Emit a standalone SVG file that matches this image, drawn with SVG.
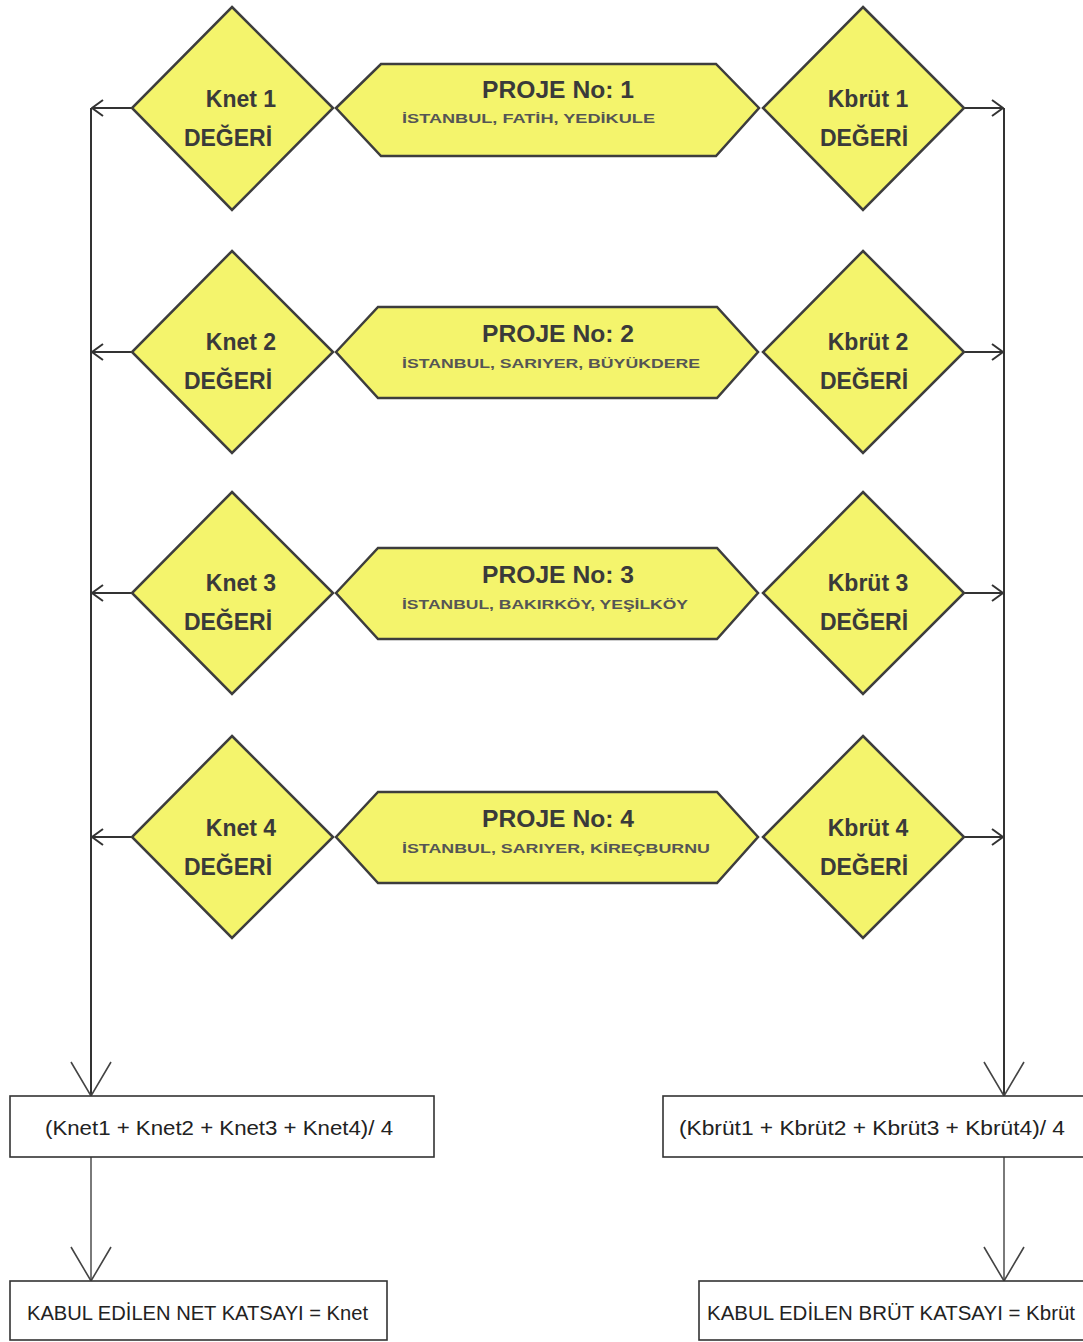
<svg xmlns="http://www.w3.org/2000/svg" width="1083" height="1342" viewBox="0 0 1083 1342">
<style>
.dia{fill:#f4f46c;stroke:#3d3d3d;stroke-width:2.5;stroke-linejoin:miter}
.hex{fill:#f4f46c;stroke:#3d3d3d;stroke-width:2.5}
.box{fill:#ffffff;stroke:#333333;stroke-width:1.6}
.ln{fill:none;stroke:#333333;stroke-width:2}
.ln2{fill:none;stroke:#7a7a7a;stroke-width:2}
.vh{fill:none;stroke:#444444;stroke-width:1.6}
.t{font-family:"Liberation Sans",Arial,sans-serif;fill:#3a3a3a}
.kt{font-size:23px;font-weight:bold;text-anchor:middle}
.pt{font-size:24px;font-weight:bold}
.st{font-size:13px;font-weight:bold;fill:#555555}
.ft{font-size:20px;fill:#222222}
</style>
<defs>
<marker id="al" viewBox="0 0 14 20" refX="13" refY="10" markerWidth="14" markerHeight="20" markerUnits="userSpaceOnUse" orient="auto">
<path d="M2,2 L13,10 L2,18" fill="none" stroke="#333333" stroke-width="2"/>
</marker>
</defs>

<g id="connectors">
<path class="ln" d="M91,108 V1096"/>
<path class="ln" d="M1004,108 V1096"/>
<path class="ln" d="M132,108 H92" marker-end="url(#al)"/>
<path class="ln" d="M132,352 H92" marker-end="url(#al)"/>
<path class="ln" d="M132,593 H92" marker-end="url(#al)"/>
<path class="ln" d="M132,837 H92" marker-end="url(#al)"/>
<path class="ln" d="M964,108 H1003" marker-end="url(#al)"/>
<path class="ln" d="M964,352 H1003" marker-end="url(#al)"/>
<path class="ln" d="M964,593 H1003" marker-end="url(#al)"/>
<path class="ln" d="M964,837 H1003" marker-end="url(#al)"/>
<path class="vh" d="M71,1062 L91,1096 L111,1062"/>
<path class="vh" d="M984,1062 L1004,1096 L1024,1062"/>
<path class="ln2" d="M91,1157 V1281"/>
<path class="ln2" d="M1004,1157 V1281"/>
<path class="vh" d="M71,1247 L91,1281 L111,1247"/>
<path class="vh" d="M984,1247 L1004,1281 L1024,1247"/>
</g>

<g id="knet1">
<polygon class="dia" points="232,7 333,108 232,210 132,108"/>
<text class="t kt" x="241" y="107">Knet 1</text>
<text class="t kt" x="228" y="146">DEĞERİ</text>
</g>
<g id="proje1">
<polygon class="hex" points="336,108 381,64 716,64 759,108 716,156 381,156"/>
<text class="t pt" x="482" y="98" textLength="152" lengthAdjust="spacingAndGlyphs">PROJE No: 1</text>
<text class="t st" x="402" y="123" textLength="253" lengthAdjust="spacingAndGlyphs">İSTANBUL, FATİH, YEDİKULE</text>
</g>
<g id="kbrut1">
<polygon class="dia" points="863,7 964,108 863,210 763,108"/>
<text class="t kt" x="868" y="107">Kbrüt 1</text>
<text class="t kt" x="864" y="146">DEĞERİ</text>
</g>

<g id="knet2">
<polygon class="dia" points="232,251 333,352 232,453 132,352"/>
<text class="t kt" x="241" y="350">Knet 2</text>
<text class="t kt" x="228" y="389">DEĞERİ</text>
</g>
<g id="proje2">
<polygon class="hex" points="336,352 378,307 717,307 758,352 717,398 378,398"/>
<text class="t pt" x="482" y="342" textLength="152" lengthAdjust="spacingAndGlyphs">PROJE No: 2</text>
<text class="t st" x="402" y="368" textLength="298" lengthAdjust="spacingAndGlyphs">İSTANBUL, SARIYER, BÜYÜKDERE</text>
</g>
<g id="kbrut2">
<polygon class="dia" points="863,251 964,352 863,453 763,352"/>
<text class="t kt" x="868" y="350">Kbrüt 2</text>
<text class="t kt" x="864" y="389">DEĞERİ</text>
</g>

<g id="knet3">
<polygon class="dia" points="232,492 333,593 232,694 132,593"/>
<text class="t kt" x="241" y="591">Knet 3</text>
<text class="t kt" x="228" y="630">DEĞERİ</text>
</g>
<g id="proje3">
<polygon class="hex" points="336,593 378,548 717,548 758,593 717,639 378,639"/>
<text class="t pt" x="482" y="583" textLength="152" lengthAdjust="spacingAndGlyphs">PROJE No: 3</text>
<text class="t st" x="402" y="609" textLength="286" lengthAdjust="spacingAndGlyphs">İSTANBUL, BAKIRKÖY, YEŞİLKÖY</text>
</g>
<g id="kbrut3">
<polygon class="dia" points="863,492 964,593 863,694 763,593"/>
<text class="t kt" x="868" y="591">Kbrüt 3</text>
<text class="t kt" x="864" y="630">DEĞERİ</text>
</g>

<g id="knet4">
<polygon class="dia" points="232,736 333,837 232,938 132,837"/>
<text class="t kt" x="241" y="836">Knet 4</text>
<text class="t kt" x="228" y="875">DEĞERİ</text>
</g>
<g id="proje4">
<polygon class="hex" points="336,837 378,792 717,792 758,837 717,883 378,883"/>
<text class="t pt" x="482" y="827" textLength="152" lengthAdjust="spacingAndGlyphs">PROJE No: 4</text>
<text class="t st" x="402" y="853" textLength="308" lengthAdjust="spacingAndGlyphs">İSTANBUL, SARIYER, KİREÇBURNU</text>
</g>
<g id="kbrut4">
<polygon class="dia" points="863,736 964,837 863,938 763,837"/>
<text class="t kt" x="868" y="836">Kbrüt 4</text>
<text class="t kt" x="864" y="875">DEĞERİ</text>
</g>

<g id="knet-avg">
<rect class="box" x="10" y="1096" width="424" height="61"/>
<text class="t ft" x="45" y="1135" textLength="348" lengthAdjust="spacingAndGlyphs">(Knet1 + Knet2 + Knet3 + Knet4)/ 4</text>
</g>
<g id="knet-result">
<rect class="box" x="10" y="1281" width="377" height="59"/>
<text class="t ft" x="27" y="1320" textLength="341" lengthAdjust="spacingAndGlyphs">KABUL EDİLEN NET KATSAYI = Knet</text>
</g>
<g id="kbrut-avg">
<rect class="box" x="663" y="1096" width="424" height="61"/>
<text class="t ft" x="679" y="1135" textLength="386" lengthAdjust="spacingAndGlyphs">(Kbrüt1 + Kbrüt2 + Kbrüt3 + Kbrüt4)/ 4</text>
</g>
<g id="kbrut-result">
<rect class="box" x="699" y="1281" width="388" height="59"/>
<text class="t ft" x="707" y="1320" textLength="368" lengthAdjust="spacingAndGlyphs">KABUL EDİLEN BRÜT KATSAYI = Kbrüt</text>
</g>
</svg>
